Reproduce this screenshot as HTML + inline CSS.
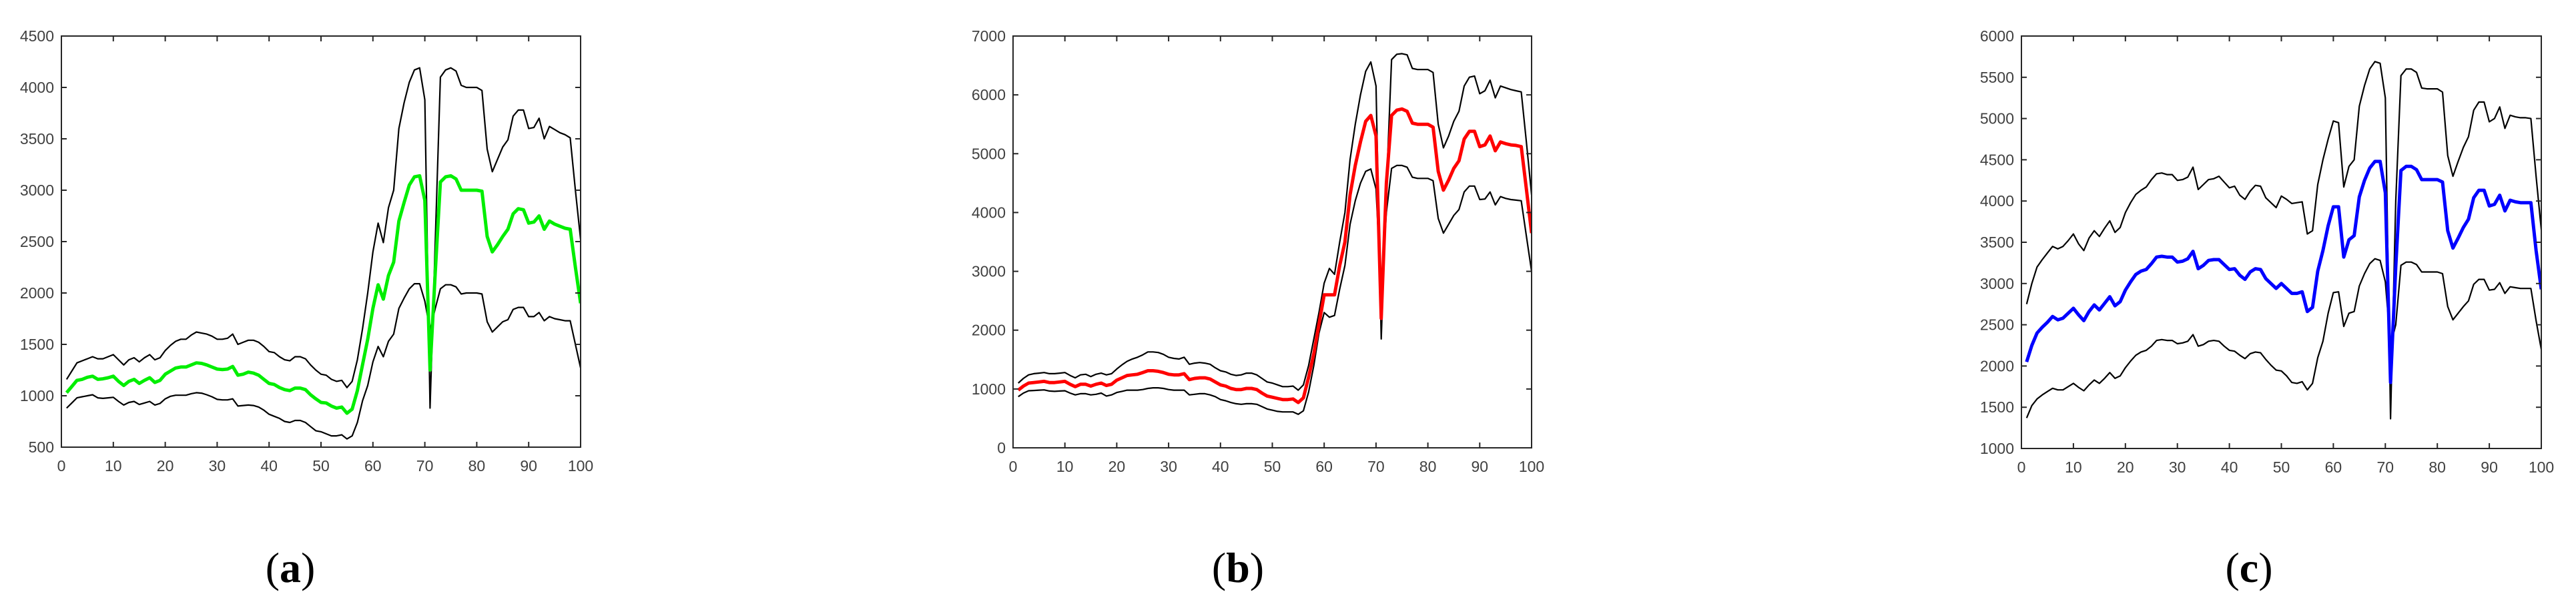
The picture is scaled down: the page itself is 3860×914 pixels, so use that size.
<!DOCTYPE html>
<html><head><meta charset="utf-8"><style>
html,body{margin:0;padding:0;background:#fff;}
svg{display:block;}
.tick{font-family:"Liberation Sans",sans-serif;font-size:23px;fill:#404040;}
.cap{font-family:"Liberation Serif",serif;font-size:64px;fill:#000;}
</style></head><body>
<svg id="fig" width="3860" height="914" viewBox="0 0 3860 914" xmlns="http://www.w3.org/2000/svg"></svg>
<script>
const xTicks=[0,10,20,30,40,50,60,70,80,90,100];
const aYTicks=[500,1000,1500,2000,2500,3000,3500,4000,4500];
const bYTicks=[0,1000,2000,3000,4000,5000,6000,7000];
const cYTicks=[1000,1500,2000,2500,3000,3500,4000,4500,5000,5500,6000];

const aMean=[1030,1090,1150,1160,1180,1190,1160,1165,1175,1190,1140,1100,1140,1160,1120,1150,1175,1130,1150,1210,1240,1270,1280,1280,1300,1320,1315,1300,1280,1260,1255,1260,1285,1200,1210,1230,1220,1200,1160,1120,1110,1080,1060,1050,1075,1075,1060,1010,970,935,930,900,880,890,830,870,1050,1300,1550,1850,2080,1940,2170,2300,2700,2880,3050,3130,3140,2900,1250,2200,3080,3130,3140,3110,3000,3000,3000,3000,2990,2550,2400,2470,2550,2620,2770,2820,2810,2680,2690,2750,2620,2700,2670,2650,2630,2620,2250,1900];
const aUpper=[1160,1240,1320,1340,1360,1380,1360,1360,1380,1400,1350,1300,1350,1370,1330,1370,1400,1350,1370,1440,1490,1530,1550,1550,1590,1620,1610,1600,1580,1550,1550,1560,1600,1500,1520,1540,1540,1520,1480,1430,1420,1380,1350,1340,1380,1380,1360,1300,1250,1210,1200,1160,1140,1150,1080,1140,1350,1650,2000,2400,2680,2490,2830,3000,3600,3850,4050,4170,4190,3880,880,2500,4100,4170,4190,4160,4020,4000,4000,4000,3970,3400,3180,3300,3420,3490,3720,3780,3780,3600,3610,3700,3500,3620,3590,3560,3540,3510,3000,2520];
const aLower=[880,930,980,990,1000,1010,980,975,980,985,945,910,935,945,915,930,945,910,925,970,995,1005,1005,1005,1020,1030,1025,1010,990,965,960,960,970,900,905,910,905,890,860,820,800,780,750,740,760,760,740,700,660,650,630,610,610,620,580,610,740,950,1100,1330,1480,1380,1530,1600,1850,1950,2040,2090,2090,1920,1640,1850,2040,2080,2080,2060,1990,2000,2000,2000,1990,1720,1620,1670,1720,1740,1840,1860,1860,1770,1770,1810,1730,1770,1750,1740,1730,1730,1500,1270];

const bMean=[980,1050,1100,1110,1120,1130,1110,1110,1120,1130,1080,1040,1080,1080,1050,1080,1100,1060,1080,1150,1190,1230,1240,1250,1280,1310,1310,1300,1280,1250,1240,1240,1260,1160,1180,1190,1190,1170,1120,1070,1050,1010,990,990,1010,1010,990,930,880,860,840,820,820,830,770,850,1200,1600,2100,2600,2600,2600,3100,3500,4300,4800,5200,5550,5650,5300,2200,4500,5650,5740,5760,5720,5520,5500,5500,5500,5450,4700,4380,4550,4750,4880,5250,5380,5380,5120,5150,5300,5050,5200,5170,5150,5140,5120,4400,3650];
const bUpper=[1100,1180,1240,1260,1270,1280,1260,1260,1270,1280,1230,1190,1240,1250,1210,1250,1270,1240,1260,1340,1410,1470,1510,1540,1580,1630,1630,1620,1590,1540,1520,1510,1540,1420,1440,1450,1440,1420,1360,1310,1290,1250,1230,1240,1270,1270,1240,1180,1120,1100,1070,1040,1040,1050,980,1070,1400,1850,2300,2800,3050,2950,3500,4000,4900,5500,6000,6400,6560,6150,1850,4400,6600,6690,6700,6680,6450,6430,6430,6430,6380,5500,5100,5300,5550,5720,6150,6300,6320,6020,6070,6250,5950,6150,6120,6090,6070,6050,5200,4300];
const bLower=[870,930,970,975,980,985,965,960,965,970,930,900,920,920,900,910,930,880,900,940,960,980,980,980,990,1010,1020,1020,1010,990,980,980,980,900,910,920,920,900,870,820,800,770,750,740,750,750,740,700,660,640,620,610,610,610,570,630,950,1400,1950,2300,2220,2250,2700,3100,3800,4200,4500,4700,4740,4400,2600,4000,4750,4800,4800,4770,4600,4580,4580,4580,4540,3900,3650,3800,3950,4050,4350,4450,4450,4220,4230,4350,4130,4270,4240,4220,4210,4200,3600,3000];

const cMean=[2050,2250,2400,2470,2530,2600,2560,2580,2640,2700,2620,2550,2660,2740,2680,2760,2840,2730,2780,2920,3020,3110,3150,3170,3240,3320,3330,3320,3320,3260,3270,3300,3390,3180,3220,3280,3290,3290,3230,3170,3180,3100,3050,3140,3180,3170,3060,3000,2940,3000,2940,2880,2880,2900,2660,2710,3150,3400,3700,3930,3930,3320,3530,3580,4050,4250,4400,4480,4480,4100,1800,3200,4370,4420,4420,4380,4260,4260,4260,4260,4230,3640,3430,3550,3680,3780,4040,4130,4130,3940,3960,4070,3880,4010,3990,3980,3980,3980,3400,2930];
const cUpper=[2750,3000,3200,3290,3370,3450,3420,3450,3520,3600,3480,3400,3550,3640,3570,3670,3760,3620,3680,3860,3980,4080,4130,4170,4260,4330,4340,4320,4320,4250,4260,4290,4410,4140,4200,4260,4270,4300,4230,4160,4180,4070,4020,4120,4190,4180,4040,3980,3920,4060,4020,3970,3980,3990,3600,3640,4200,4500,4750,4970,4950,4170,4420,4500,5150,5400,5600,5690,5670,5250,1360,4000,5520,5600,5600,5560,5370,5360,5360,5360,5320,4550,4300,4480,4650,4780,5100,5200,5200,4960,5000,5140,4880,5040,5020,5010,5010,5000,4300,3650];
const cLower=[1370,1520,1600,1650,1690,1730,1710,1710,1750,1790,1740,1700,1770,1830,1790,1850,1920,1850,1880,1980,2060,2130,2170,2190,2240,2310,2320,2310,2310,2270,2280,2300,2380,2240,2260,2300,2310,2300,2240,2190,2180,2130,2090,2150,2170,2160,2080,2010,1950,1940,1880,1800,1790,1810,1710,1790,2100,2300,2640,2890,2900,2480,2640,2660,2970,3120,3240,3300,3280,3020,2250,2500,3220,3260,3260,3230,3140,3140,3140,3140,3120,2720,2560,2640,2720,2790,2990,3050,3050,2920,2930,3010,2880,2960,2950,2940,2940,2940,2550,2200];

const NS="http://www.w3.org/2000/svg";
const svg=document.getElementById('fig');
function mk(tag,attrs,parent){const e=document.createElementNS(NS,tag);for(const k in attrs)e.setAttribute(k,attrs[k]);(parent||svg).appendChild(e);return e;}

function drawChart(id,box,yTicks,mean,upper,lower,color,cap,capX){
  const [L,T,R,B]=box;
  const y0=yTicks[0],y1=yTicks[yTicks.length-1];
  const sx=v=>L+(v-0)/(100-0)*(R-L);
  const sy=v=>B-(v-y0)/(y1-y0)*(B-T);
  const g=mk('g',{});
  
  
  const clip=mk('clipPath',{id:'clip-'+id},g);
  mk('rect',{x:L,y:T,width:R-L,height:B-T},clip);
  const series=[[upper,'#000',2.2,'upper-bound-line'],[lower,'#000',2.2,'lower-bound-line'],[mean,color,5,'mean-line']];
  for(const [arr,col,w,nm] of series){
    let d='';
    arr.forEach((v,i)=>{d+=(i?'L':'M')+sx(i+1).toFixed(1)+','+sy(v).toFixed(1);});
    const p=mk('path',{d:d,fill:'none',stroke:col,'stroke-width':w,'stroke-linejoin':'round','clip-path':'url(#clip-'+id+')'},g);
    
    
  }
  const frame=mk('rect',{x:L,y:T,width:R-L,height:B-T,fill:'none',stroke:'#262626','stroke-width':2},g);
  
  
  xTicks.forEach(t=>{
    const x=sx(t);
    mk('line',{x1:x,y1:B,x2:x,y2:B-8,stroke:'#262626','stroke-width':2},g);
    mk('line',{x1:x,y1:T,x2:x,y2:T+8,stroke:'#262626','stroke-width':2},g);
    const tx=mk('text',{x:x,y:B+36,'text-anchor':'middle',class:'tick'},g);
    tx.textContent=t;
    
    
  });
  yTicks.forEach(t=>{
    const y=sy(t);
    mk('line',{x1:L,y1:y,x2:L+8,y2:y,stroke:'#262626','stroke-width':2},g);
    mk('line',{x1:R,y1:y,x2:R-8,y2:y,stroke:'#262626','stroke-width':2},g);
    const tx=mk('text',{x:L-11,y:y+8,'text-anchor':'end',class:'tick'},g);
    tx.textContent=t;
    
    
  });
  const c=mk('text',{x:capX,y:872,'text-anchor':'middle',class:'cap'},g);
  
  
  c.appendChild(document.createTextNode('('));
  const b=mk('tspan',{'font-weight':'bold'},c);b.textContent=cap;
  c.appendChild(document.createTextNode(')'));
}
drawChart('a',[92,54,870,670],aYTicks,aMean,aUpper,aLower,'#00ee00','a',435);
drawChart('b',[1518,54,2295,671],bYTicks,bMean,bUpper,bLower,'#ff0000','b',1855);
drawChart('c',[3029,54,3808,672],cYTicks,cMean,cUpper,cLower,'#0000ff','c',3370);
</script>
</body></html>
